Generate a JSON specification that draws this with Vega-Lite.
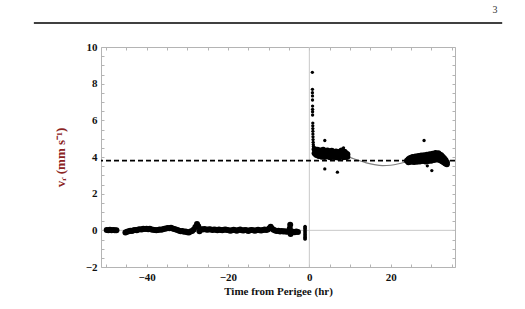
{
  "$schema": "https://vega.github.io/schema/vega-lite/v6.json",
  "width": 354,
  "height": 220,
  "autosize": {"type": "none"},
  "padding": {"left": 101, "top": 47, "right": 70, "bottom": 42},
  "background": "white",
  "config": {
    "view": {"stroke": "#b4b4b4", "strokeWidth": 1},
    "axis": {
      "grid": false, "domain": false, "tickColor": "#b4b4b4", "tickWidth": 1,
      "labelFont": "Liberation Serif", "labelFontWeight": "bold", "labelFontSize": 11, "labelColor": "#111",
      "titleFont": "Liberation Serif", "titleFontWeight": "bold", "titleFontSize": 11, "titleColor": "#111"
    }
  },
  "datasets": {
    "pts": [
      {"t": -49.8, "v": 0.02, "k": "d"}, {"t": -49.4, "v": 0.0, "k": "d"}, {"t": -49.0, "v": 0.03, "k": "d"}, {"t": -48.6, "v": 0.01, "k": "d"}, {"t": -48.2, "v": 0.02, "k": "d"}, {"t": -47.8, "v": 0.0, "k": "d"}, {"t": -47.4, "v": 0.01, "k": "d"},
      {"t": -45.2, "v": -0.12, "k": "d"}, {"t": -44.8, "v": -0.08, "k": "d"}, {"t": -44.4, "v": -0.05, "k": "d"}, {"t": -44.0, "v": -0.02, "k": "d"}, {"t": -43.6, "v": -0.03, "k": "d"}, {"t": -43.2, "v": 0.0, "k": "d"}, {"t": -42.8, "v": 0.02, "k": "d"}, {"t": -42.4, "v": 0.01, "k": "d"}, {"t": -42.0, "v": 0.04, "k": "d"}, {"t": -41.6, "v": 0.06, "k": "d"},
      {"t": -41.2, "v": 0.05, "k": "d"}, {"t": -40.8, "v": 0.08, "k": "d"}, {"t": -40.4, "v": 0.07, "k": "d"}, {"t": -40.0, "v": 0.09, "k": "d"}, {"t": -39.6, "v": 0.06, "k": "d"}, {"t": -39.2, "v": 0.08, "k": "d"}, {"t": -38.8, "v": 0.05, "k": "d"}, {"t": -38.4, "v": 0.03, "k": "d"}, {"t": -38.0, "v": 0.02, "k": "d"}, {"t": -37.6, "v": 0.0, "k": "d"},
      {"t": -37.2, "v": 0.02, "k": "d"}, {"t": -36.8, "v": 0.04, "k": "d"}, {"t": -36.4, "v": 0.03, "k": "d"}, {"t": -36.0, "v": 0.06, "k": "d"}, {"t": -35.6, "v": 0.08, "k": "d"}, {"t": -35.2, "v": 0.1, "k": "d"}, {"t": -34.8, "v": 0.13, "k": "d"}, {"t": -34.4, "v": 0.11, "k": "d"}, {"t": -34.0, "v": 0.14, "k": "d"}, {"t": -33.6, "v": 0.1, "k": "d"},
      {"t": -33.2, "v": 0.07, "k": "d"}, {"t": -32.8, "v": 0.04, "k": "d"}, {"t": -32.4, "v": 0.02, "k": "d"}, {"t": -32.0, "v": -0.02, "k": "d"}, {"t": -31.6, "v": -0.05, "k": "d"}, {"t": -31.2, "v": -0.04, "k": "d"}, {"t": -30.8, "v": -0.08, "k": "d"}, {"t": -30.4, "v": -0.06, "k": "d"}, {"t": -30.0, "v": -0.1, "k": "d"}, {"t": -29.6, "v": -0.12, "k": "d"},
      {"t": -29.2, "v": -0.07, "k": "d"}, {"t": -28.8, "v": -0.03, "k": "d"}, {"t": -28.4, "v": 0.05, "k": "d"}, {"t": -28.0, "v": 0.18, "k": "d"}, {"t": -27.6, "v": 0.35, "k": "d"}, {"t": -27.3, "v": 0.22, "k": "d"}, {"t": -27.0, "v": -0.05, "k": "d"}, {"t": -26.6, "v": 0.06, "k": "d"}, {"t": -26.2, "v": 0.04, "k": "d"}, {"t": -25.8, "v": 0.07, "k": "d"},
      {"t": -25.4, "v": 0.05, "k": "d"}, {"t": -25.0, "v": 0.03, "k": "d"}, {"t": -24.6, "v": 0.06, "k": "d"}, {"t": -24.2, "v": 0.04, "k": "d"}, {"t": -23.8, "v": 0.02, "k": "d"}, {"t": -23.4, "v": 0.05, "k": "d"}, {"t": -23.0, "v": 0.03, "k": "d"}, {"t": -22.6, "v": 0.01, "k": "d"}, {"t": -22.2, "v": 0.04, "k": "d"}, {"t": -21.8, "v": 0.02, "k": "d"},
      {"t": -21.4, "v": 0.0, "k": "d"}, {"t": -21.0, "v": 0.03, "k": "d"}, {"t": -20.6, "v": 0.05, "k": "d"}, {"t": -20.2, "v": 0.02, "k": "d"}, {"t": -19.8, "v": 0.0, "k": "d"}, {"t": -19.4, "v": -0.02, "k": "d"}, {"t": -19.0, "v": 0.01, "k": "d"}, {"t": -18.6, "v": 0.03, "k": "d"}, {"t": -18.2, "v": 0.0, "k": "d"}, {"t": -17.8, "v": -0.02, "k": "d"},
      {"t": -17.4, "v": 0.02, "k": "d"}, {"t": -17.0, "v": 0.04, "k": "d"}, {"t": -16.6, "v": 0.01, "k": "d"}, {"t": -16.2, "v": -0.01, "k": "d"}, {"t": -15.8, "v": 0.02, "k": "d"}, {"t": -15.4, "v": 0.0, "k": "d"}, {"t": -15.0, "v": -0.03, "k": "d"}, {"t": -14.6, "v": 0.0, "k": "d"}, {"t": -14.2, "v": 0.02, "k": "d"}, {"t": -13.8, "v": 0.01, "k": "d"},
      {"t": -13.4, "v": -0.02, "k": "d"}, {"t": -13.0, "v": 0.0, "k": "d"}, {"t": -12.6, "v": 0.03, "k": "d"}, {"t": -12.2, "v": 0.01, "k": "d"}, {"t": -11.8, "v": -0.01, "k": "d"}, {"t": -11.4, "v": 0.02, "k": "d"}, {"t": -11.0, "v": 0.04, "k": "d"}, {"t": -10.6, "v": 0.02, "k": "d"}, {"t": -10.2, "v": 0.05, "k": "d"}, {"t": -9.8, "v": 0.12, "k": "d"},
      {"t": -9.5, "v": 0.2, "k": "d"}, {"t": -9.2, "v": 0.1, "k": "d"}, {"t": -8.8, "v": 0.03, "k": "d"}, {"t": -8.4, "v": -0.01, "k": "d"}, {"t": -8.0, "v": -0.04, "k": "d"}, {"t": -7.6, "v": -0.02, "k": "d"}, {"t": -7.2, "v": -0.06, "k": "d"}, {"t": -6.8, "v": -0.03, "k": "d"}, {"t": -6.4, "v": -0.07, "k": "d"}, {"t": -6.0, "v": -0.05, "k": "d"},
      {"t": -5.6, "v": -0.08, "k": "d"}, {"t": -5.2, "v": -0.06, "k": "d"}, {"t": -4.8, "v": 0.1, "k": "d"}, {"t": -4.7, "v": 0.3, "k": "d"}, {"t": -4.6, "v": -0.2, "k": "d"}, {"t": -4.4, "v": -0.12, "k": "d"}, {"t": -4.0, "v": -0.08, "k": "d"}, {"t": -3.6, "v": -0.1, "k": "d"}, {"t": -3.2, "v": -0.06, "k": "d"}, {"t": -2.8, "v": -0.09, "k": "d"},
      {"t": -1.05, "v": 0.22, "k": "s"}, {"t": -1.05, "v": 0.17, "k": "s"}, {"t": -1.05, "v": 0.12, "k": "s"}, {"t": -1.05, "v": 0.07, "k": "s"}, {"t": -1.05, "v": 0.02, "k": "s"}, {"t": -1.05, "v": -0.03, "k": "s"}, {"t": -1.05, "v": -0.08, "k": "s"}, {"t": -1.05, "v": -0.13, "k": "s"}, {"t": -1.05, "v": -0.18, "k": "s"}, {"t": -1.05, "v": -0.23, "k": "s"}, {"t": -1.05, "v": -0.28, "k": "s"}, {"t": -1.05, "v": -0.33, "k": "s"}, {"t": -1.05, "v": -0.38, "k": "s"}, {"t": -1.05, "v": -0.43, "k": "s"}, {"t": -1.05, "v": -0.48, "k": "s"},
      {"t": 0.74, "v": 8.62, "k": "s"}, {"t": 0.76, "v": 7.69, "k": "s"}, {"t": 0.76, "v": 7.51, "k": "s"}, {"t": 0.78, "v": 7.33, "k": "s"}, {"t": 0.78, "v": 7.11, "k": "s"}, {"t": 0.8, "v": 6.78, "k": "s"}, {"t": 0.8, "v": 6.6, "k": "s"}, {"t": 0.8, "v": 6.47, "k": "s"}, {"t": 0.8, "v": 6.29, "k": "s"},
      {"t": 0.85, "v": 5.85, "k": "s"}, {"t": 0.85, "v": 5.7, "k": "s"}, {"t": 0.86, "v": 5.55, "k": "s"}, {"t": 0.87, "v": 5.4, "k": "s"}, {"t": 0.88, "v": 5.25, "k": "s"}, {"t": 0.9, "v": 5.1, "k": "s"}, {"t": 0.92, "v": 4.95, "k": "s"}, {"t": 0.95, "v": 4.8, "k": "s"}, {"t": 0.98, "v": 4.68, "k": "s"}, {"t": 1.02, "v": 4.58, "k": "s"}, {"t": 1.08, "v": 4.5, "k": "s"}, {"t": 1.15, "v": 4.45, "k": "s"},
      {"t": 1.3, "v": 4.42, "k": "d"}, {"t": 1.3, "v": 4.2, "k": "d"}, {"t": 1.65, "v": 4.35, "k": "d"}, {"t": 1.65, "v": 4.12, "k": "d"}, {"t": 2.0, "v": 4.4, "k": "d"}, {"t": 2.0, "v": 4.1, "k": "d"}, {"t": 2.35, "v": 4.3, "k": "d"}, {"t": 2.35, "v": 4.05, "k": "d"},
      {"t": 2.7, "v": 4.36, "k": "d"}, {"t": 2.7, "v": 4.12, "k": "d"}, {"t": 3.05, "v": 4.28, "k": "d"}, {"t": 3.05, "v": 4.02, "k": "d"}, {"t": 3.4, "v": 4.4, "k": "d"}, {"t": 3.4, "v": 4.08, "k": "d"}, {"t": 3.75, "v": 4.32, "k": "d"}, {"t": 3.75, "v": 4.0, "k": "d"},
      {"t": 4.1, "v": 4.25, "k": "d"}, {"t": 4.1, "v": 4.05, "k": "d"}, {"t": 4.45, "v": 4.35, "k": "d"}, {"t": 4.45, "v": 4.1, "k": "d"}, {"t": 4.8, "v": 4.3, "k": "d"}, {"t": 4.8, "v": 4.02, "k": "d"}, {"t": 5.15, "v": 4.22, "k": "d"}, {"t": 5.15, "v": 3.98, "k": "d"},
      {"t": 5.5, "v": 4.34, "k": "d"}, {"t": 5.5, "v": 4.06, "k": "d"}, {"t": 5.85, "v": 4.28, "k": "d"}, {"t": 5.85, "v": 4.0, "k": "d"}, {"t": 6.2, "v": 4.2, "k": "d"}, {"t": 6.2, "v": 4.04, "k": "d"}, {"t": 6.55, "v": 4.3, "k": "d"}, {"t": 6.55, "v": 3.98, "k": "d"},
      {"t": 6.9, "v": 4.26, "k": "d"}, {"t": 6.9, "v": 4.02, "k": "d"}, {"t": 7.25, "v": 4.18, "k": "d"}, {"t": 7.25, "v": 3.96, "k": "d"}, {"t": 7.6, "v": 4.3, "k": "d"}, {"t": 7.6, "v": 4.05, "k": "d"}, {"t": 7.95, "v": 4.36, "k": "d"}, {"t": 7.95, "v": 4.08, "k": "d"},
      {"t": 8.3, "v": 4.22, "k": "d"}, {"t": 8.3, "v": 3.98, "k": "d"}, {"t": 8.65, "v": 4.28, "k": "d"}, {"t": 8.65, "v": 4.04, "k": "d"}, {"t": 9.0, "v": 4.2, "k": "d"}, {"t": 9.0, "v": 4.0, "k": "d"}, {"t": 9.35, "v": 4.15, "k": "d"}, {"t": 9.35, "v": 4.02, "k": "d"},
      {"t": 3.8, "v": 4.9, "k": "s"}, {"t": 3.8, "v": 3.35, "k": "s"}, {"t": 6.9, "v": 3.17, "k": "s"}, {"t": 8.4, "v": 4.5, "k": "s"},
      {"t": 24.0, "v": 3.8, "k": "d"}, {"t": 24.35, "v": 3.88, "k": "d"}, {"t": 24.35, "v": 3.72, "k": "d"}, {"t": 24.7, "v": 3.93, "k": "d"}, {"t": 24.7, "v": 3.74, "k": "d"}, {"t": 25.05, "v": 3.96, "k": "d"}, {"t": 25.05, "v": 3.75, "k": "d"},
      {"t": 25.4, "v": 4.0, "k": "d"}, {"t": 25.4, "v": 3.76, "k": "d"}, {"t": 25.75, "v": 3.95, "k": "d"}, {"t": 25.75, "v": 3.73, "k": "d"}, {"t": 26.1, "v": 4.03, "k": "d"}, {"t": 26.1, "v": 3.78, "k": "d"}, {"t": 26.45, "v": 3.98, "k": "d"}, {"t": 26.45, "v": 3.74, "k": "d"},
      {"t": 26.8, "v": 4.06, "k": "d"}, {"t": 26.8, "v": 3.8, "k": "d"}, {"t": 27.15, "v": 4.0, "k": "d"}, {"t": 27.15, "v": 3.76, "k": "d"}, {"t": 27.5, "v": 4.08, "k": "d"}, {"t": 27.5, "v": 3.82, "k": "d"}, {"t": 27.85, "v": 4.03, "k": "d"}, {"t": 27.85, "v": 3.78, "k": "d"},
      {"t": 28.2, "v": 4.1, "k": "d"}, {"t": 28.2, "v": 3.82, "k": "d"}, {"t": 28.55, "v": 4.04, "k": "d"}, {"t": 28.55, "v": 3.76, "k": "d"}, {"t": 28.9, "v": 4.12, "k": "d"}, {"t": 28.9, "v": 3.84, "k": "d"}, {"t": 29.25, "v": 4.08, "k": "d"}, {"t": 29.25, "v": 3.78, "k": "d"},
      {"t": 29.6, "v": 4.15, "k": "d"}, {"t": 29.6, "v": 3.85, "k": "d"}, {"t": 29.95, "v": 4.1, "k": "d"}, {"t": 29.95, "v": 3.8, "k": "d"}, {"t": 30.3, "v": 4.18, "k": "d"}, {"t": 30.3, "v": 3.88, "k": "d"}, {"t": 30.65, "v": 4.12, "k": "d"}, {"t": 30.65, "v": 3.84, "k": "d"},
      {"t": 31.0, "v": 4.22, "k": "d"}, {"t": 31.0, "v": 3.9, "k": "d"}, {"t": 31.35, "v": 4.16, "k": "d"}, {"t": 31.35, "v": 3.86, "k": "d"}, {"t": 31.7, "v": 4.2, "k": "d"}, {"t": 31.7, "v": 3.88, "k": "d"}, {"t": 32.05, "v": 4.13, "k": "d"}, {"t": 32.05, "v": 3.84, "k": "d"},
      {"t": 32.4, "v": 4.1, "k": "d"}, {"t": 32.4, "v": 3.8, "k": "d"}, {"t": 32.75, "v": 4.02, "k": "d"}, {"t": 32.75, "v": 3.75, "k": "d"}, {"t": 33.1, "v": 3.93, "k": "d"}, {"t": 33.1, "v": 3.7, "k": "d"}, {"t": 33.45, "v": 3.84, "k": "d"}, {"t": 33.45, "v": 3.65, "k": "d"}, {"t": 33.8, "v": 3.72, "k": "d"}, {"t": 33.8, "v": 3.6, "k": "d"},
      {"t": 28.2, "v": 4.9, "k": "s"}, {"t": 29.0, "v": 3.52, "k": "s"}, {"t": 30.1, "v": 3.26, "k": "s"}
    ],
    "fit": [
      {"t": 1, "v": 4.45}, {"t": 2, "v": 4.4}, {"t": 4, "v": 4.32}, {"t": 6, "v": 4.22}, {"t": 8, "v": 4.1}, {"t": 10, "v": 3.98},
      {"t": 12, "v": 3.82}, {"t": 14, "v": 3.68}, {"t": 16, "v": 3.58}, {"t": 18, "v": 3.53}, {"t": 20, "v": 3.55}, {"t": 22, "v": 3.63},
      {"t": 24, "v": 3.75}, {"t": 26, "v": 3.86}, {"t": 28, "v": 3.94}, {"t": 30, "v": 3.96}, {"t": 32, "v": 3.9}, {"t": 34, "v": 3.78}
    ],
    "refs": [{"zero": 0, "mean": 3.8}],
    "hdr": [{"t": -67.7, "t2": 47.4, "v": 11.31, "page": "3", "tp": 45.6, "vp": 12.02}]
  },
  "resolve": {"axis": {"x": "independent", "y": "independent"}},
  "layer": [
    {
      "data": {"name": "refs"},
      "mark": {"type": "rule", "color": "#c8c8c8", "strokeWidth": 1},
      "encoding": {"x": {"field": "zero", "type": "quantitative", "scale": {"domain": [-51.2, 35.8], "nice": false, "zero": false}, "axis": null}}
    },
    {
      "data": {"name": "refs"},
      "mark": {"type": "rule", "color": "#c8c8c8", "strokeWidth": 1},
      "encoding": {"y": {"field": "zero", "type": "quantitative", "scale": {"domain": [-2, 10], "nice": false, "zero": false}, "axis": null}}
    },
    {
      "data": {"name": "fit"},
      "mark": {"type": "line", "color": "#808080", "strokeWidth": 1.2, "interpolate": "monotone"},
      "encoding": {
        "x": {"field": "t", "type": "quantitative", "axis": {"orient": "top", "labels": false, "title": null, "tickSize": -3, "values": [-50,-45,-40,-35,-30,-25,-20,-15,-10,-5,0,5,10,15,20,25,30,35]}},
        "y": {"field": "v", "type": "quantitative", "axis": {"orient": "right", "labels": false, "title": null, "tickSize": -3, "values": [-2,-1.5,-1,-0.5,0,0.5,1,1.5,2,2.5,3,3.5,4,4.5,5,5.5,6,6.5,7,7.5,8,8.5,9,9.5,10]}}
      }
    },
    {
      "data": {"name": "refs"},
      "mark": {"type": "rule", "color": "#000", "strokeWidth": 1.6, "strokeDash": [5, 3]},
      "encoding": {"y": {"field": "mean", "type": "quantitative", "axis": null}}
    },
    {
      "data": {"name": "pts"},
      "mark": {"type": "point", "filled": true, "color": "#000", "opacity": 1, "shape": "circle"},
      "encoding": {
        "x": {"field": "t", "type": "quantitative", "title": "Time from Perigee (hr)",
              "axis": {"orient": "bottom", "tickSize": -3, "labelPadding": 7, "titlePadding": 3, "format": "~g", "values": [-50,-45,-40,-35,-30,-25,-20,-15,-10,-5,0,5,10,15,20,25,30,35], "labelExpr": "datum.value % 20 === 0 ? datum.label : ''"}},
        "y": {"field": "v", "type": "quantitative", "title": "vᵣ (mm s⁻¹)",
              "axis": {"orient": "left", "tickSize": -3, "labelPadding": 7, "titlePadding": 18, "titleFontSize": 13, "titleColor": "#8b2323", "format": "~g", "values": [-2,-1.5,-1,-0.5,0,0.5,1,1.5,2,2.5,3,3.5,4,4.5,5,5.5,6,6.5,7,7.5,8,8.5,9,9.5,10], "labelExpr": "datum.value % 2 === 0 ? datum.label : ''"}},
        "size": {"field": "k", "type": "nominal", "scale": {"domain": ["d", "s"], "range": [36, 11]}, "legend": null}
      }
    },
    {
      "data": {"name": "hdr"},
      "mark": {"type": "rule", "color": "#000", "strokeWidth": 1.5, "clip": false},
      "encoding": {
        "x": {"field": "t", "type": "quantitative", "axis": null},
        "x2": {"field": "t2"},
        "y": {"field": "v", "type": "quantitative", "axis": null}
      }
    },
    {
      "data": {"name": "hdr"},
      "mark": {"type": "text", "font": "Liberation Serif", "fontSize": 10, "color": "#333", "clip": false, "baseline": "middle", "align": "center"},
      "encoding": {
        "x": {"field": "tp", "type": "quantitative", "axis": null},
        "y": {"field": "vp", "type": "quantitative", "axis": null},
        "text": {"field": "page"}
      }
    }
  ]
}
